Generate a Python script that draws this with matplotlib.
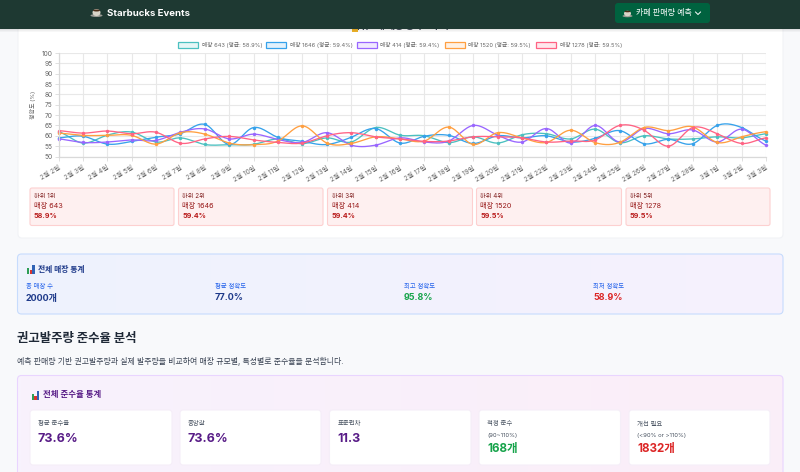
import numpy as np
import matplotlib
matplotlib.use("Agg")
import matplotlib.pyplot as plt
from matplotlib.patches import FancyBboxPatch, Rectangle, Ellipse

plt.rcParams['font.family'] = ['Inter', 'Noto Sans CJK KR', 'DejaVu Sans']

W, H = 800, 472
dates = ['2월 2일','2월 3일','2월 4일','2월 5일','2월 6일','2월 7일','2월 8일','2월 9일','2월 10일','2월 11일',
         '2월 12일','2월 13일','2월 14일','2월 15일','2월 16일','2월 17일','2월 18일','2월 19일','2월 20일','2월 21일',
         '2월 22일','2월 23일','2월 24일','2월 25일','2월 26일','2월 27일','2월 28일','3월 1일','3월 2일','3월 3일']
stores = ['643', '1646', '414', '1520', '1278']
means = ['58.9', '59.4', '59.4', '59.5', '59.5']
teal = [62, 56.5, 60.3, 61.8, 57, 59, 55.8, 55.7, 55.9, 58.5, 56.2, 59, 57, 64, 60.3,
        60, 56.7, 59.5, 56.5, 60.5, 61, 58.5, 63.2, 56.7, 60, 58.5, 58.5, 59.5, 59, 61]
blue = [59, 59.8, 56, 57.3, 59.3, 61, 65.5, 55.8, 64, 59.2, 57.3, 55.8, 59.3, 63.5, 56.5,
        59.8, 60.2, 56.3, 60, 59, 60, 57, 58.8, 62.5, 56.2, 58.3, 56.2, 65, 64, 57.5]
purple = [58.5, 56.8, 57, 58, 57.8, 61.7, 63.3, 58.5, 60.8, 58.2, 56.8, 61.5, 55.5, 55.5, 59,
          57, 57.5, 65, 60.3, 57, 63.5, 56.5, 65, 57, 63.5, 61, 62.8, 57, 63.2, 55.5]
orange = [61.3, 60.2, 60.2, 60.2, 56, 61.5, 60.8, 56.5, 55.7, 57.5, 64.8, 56.5, 56.3, 59.5, 58.5,
          57.5, 64.2, 55.8, 61.5, 59, 56.8, 62.7, 56.7, 56.8, 64, 62.5, 64.3, 56.8, 59.5, 62]
pink = [62.5, 61.3, 62.3, 61, 61.7, 56.4, 58.5, 59.7, 58, 56.8, 56.5, 60, 61.5, 59.5, 58.5,
        57.3, 57.5, 59.5, 59.5, 59, 57, 57.5, 58, 65, 62.7, 55, 64, 61, 56.3, 59]
series = [teal, blue, purple, orange, pink]
colors = ['#4bc0c0', '#36a2eb', '#9966ff', '#ff9f40', '#ff6384']
yticks = list(range(50, 105, 5))
rank_labels = ['하위 1위', '하위 2위', '하위 3위', '하위 4위', '하위 5위']
stat_labels = ['총 매장 수', '평균 정확도', '최고 정확도', '최저 정확도']
stat_values = ['2000개', '77.0%', '95.8%', '58.9%']
comp_labels = ['평균 준수율', '중앙값', '표준편차', '적정 준수', '개선 필요']
comp_subs = ['', '', '', '(90~110%)', '(<90% or >110%)']
comp_values = ['73.6%', '73.6%', '11.3', '168개', '1832개']

fig = plt.figure(figsize=(W / 100, H / 100), dpi=100, facecolor='#f8f9fb')
pg = fig.add_axes([0, 0, 1, 1])
pg.set_xlim(0, W)
pg.set_ylim(H, 0)
pg.axis('off')

def fs(px):
    return px * 0.72

def box(x0, y0, x1, y1, fc, ec='none', r=3, lw=0.8, z=2):
    p = FancyBboxPatch((x0, y0), x1 - x0, y1 - y0, boxstyle=f'round,pad=0,rounding_size={r}',
                       fc=fc, ec=ec, lw=lw, zorder=z)
    pg.add_patch(p)
    return p

def gradient(x0, y0, x1, y1, c0, c1, ec, z=1):
    p = box(x0, y0, x1, y1, 'none', ec, r=4, z=z + 0.1)
    a, b = np.array(matplotlib.colors.to_rgb(c0)), np.array(matplotlib.colors.to_rgb(c1))
    t = np.linspace(0, 1, 128)[None, :, None]
    im = pg.imshow(a + (b - a) * t, extent=(x0, x1, y1, y0), aspect='auto', zorder=z, interpolation='bilinear')
    im.set_clip_path(p)

def txt(x, y, s, px, c, w='normal', ha='left', z=5):
    return pg.text(x, y, s, fontsize=fs(px), color=c, fontweight=w, ha=ha, va='center', zorder=z)

def bars_icon(x, y, h):
    u = h / 10
    pg.add_patch(Rectangle((x, y + 3 * u), 2.6 * u, 7 * u, fc='#2e9e55', zorder=6))
    pg.add_patch(Rectangle((x + 3 * u, y + 5.5 * u), 2.6 * u, 4.5 * u, fc='#d9352f', zorder=6))
    pg.add_patch(Rectangle((x + 6 * u, y), 2.8 * u, 10 * u, fc='#2f62b5', zorder=6))

# main card
box(18, 20, 783, 238, 'white', '#f1f3f6', r=4, z=1)
txt(400, 26, '하위 5개 매장 정확도 추이', 9, '#374151', 'bold', ha='center', z=1.5)
pg.add_patch(Rectangle((352, 29), 6, 2.5, fc='#f0b429', zorder=1.5))

# header
for i, a in enumerate([0.10, 0.06, 0.03]):
    pg.add_patch(Rectangle((0, 29 + i), W, 1, fc='black', alpha=a, ec='none', zorder=6))
pg.add_patch(Rectangle((0, 0), W, 29, fc='#1e3932', ec='none', zorder=7))
pg.add_patch(Ellipse((96.5, 15.5), 12, 3, fc='#9a9a94', zorder=8))
pg.add_patch(Ellipse((96.5, 12.5), 8, 7, fc='#d8d4c8', zorder=8))
pg.add_patch(Ellipse((96.5, 10.5), 7, 2, fc='#4a2c17', zorder=8))
txt(107, 13, 'Starbucks Events', 9.6, 'white', 'bold', z=8)
box(615, 3, 710, 23, '#00623f', r=3, z=8)
pg.add_patch(Ellipse((627.5, 16), 10, 2.5, fc='#9a9a94', zorder=9))
pg.add_patch(Ellipse((627.5, 13.5), 7, 5.5, fc='#d8d4c8', zorder=9))
pg.add_patch(Ellipse((627.5, 11.5), 6, 1.6, fc='#4a2c17', zorder=9))
txt(636, 13, '카페 판매량 예측', 8, 'white', 'medium', z=9)
pg.plot([695.5, 698, 700.5], [12, 14.5, 12], color='white', lw=0.7, zorder=9)

# chart
L, R, T, B = 58.5, 766, 53, 156.5
ax = fig.add_axes([L / W, 1 - B / H, (R - L) / W, (B - T) / H], facecolor='none', zorder=3)
ax.set_xlim(0, len(dates) - 1)
ax.set_ylim(50, 100)
ax.set_yticks(yticks)
ax.set_xticks(range(len(dates)))
ax.set_xticklabels(dates, rotation=30, ha='right', rotation_mode='anchor', fontsize=fs(6.6), color='#666666')
ax.tick_params(axis='y', labelsize=fs(6.6), labelcolor='#666666', length=3, width=0.7, color='#e0e0e0', pad=1)
ax.tick_params(axis='x', length=3, width=0.7, color='#e0e0e0', pad=3)
ax.grid(True, color='#e8e8e8', lw=0.8)
ax.set_axisbelow(True)
for s in ['top', 'right']:
    ax.spines[s].set_visible(False)
for s in ['left', 'bottom']:
    ax.spines[s].set_color('#d9d9d9')
    ax.spines[s].set_linewidth(0.9)
ax.set_ylabel('정확도 (%)', fontsize=fs(6), color='#666666', labelpad=3)
ax.yaxis.set_label_coords((36 - L) / (R - L), (B - 105) / (B - T))

def smooth(y, tension=0.4, n=16):
    y = np.asarray(y, float)
    x = np.arange(len(y), dtype=float)
    xs, ys = [], []
    for i in range(len(y) - 1):
        p0, p1, p2, p3 = max(i - 1, 0), i, i + 1, min(i + 2, len(y) - 1)
        t = np.linspace(0, 1, n, endpoint=False)
        c1 = y[p1] + tension * (y[p2] - y[p0]) / 2
        c2 = y[p2] - tension * (y[p3] - y[p1]) / 2
        ys.append((1 - t)**3 * y[p1] + 3 * (1 - t)**2 * t * c1 + 3 * (1 - t) * t**2 * c2 + t**3 * y[p2])
        xs.append(x[i] + t)
    return np.r_[np.concatenate(xs), x[-1]], np.r_[np.concatenate(ys), y[-1]]

for vals, c in zip(series, colors):
    sx, sy = smooth(vals)
    ax.plot(sx, sy, color=c, lw=0.95, clip_on=True, solid_capstyle='round')
    ax.plot(range(len(vals)), vals, ls='none', marker='o', ms=2.2, mfc=c, mec=c, mew=0.3, clip_on=False)

# legend
leg_box = [178, 266, 357, 445, 536]
for x, st, m, c in zip(leg_box, stores, means, colors):
    rgba = matplotlib.colors.to_rgba(c, 0.14)
    pg.add_patch(Rectangle((x, 41.5), 20, 6.5, fc=rgba, ec=c, lw=0.9, zorder=4))
    txt(x + 23.5, 44.8, f'매장 {st} (평균: {m}%)', 5.7, '#666666')

# bottom-5 cards
card_x = [(30, 174), (178.5, 323), (327.5, 472.5), (476.5, 621.5), (626, 770)]
for (x0, x1), r_l, st, m in zip(card_x, rank_labels, stores, means):
    box(x0, 188, x1, 225.5, '#fef0f0', '#fdd0d0', r=2, z=2)
    txt(x0 + 4, 196.3, r_l, 6.2, '#7f1d1d')
    txt(x0 + 4, 205.5, f'매장 {st}', 7.2, '#991b1b')
    txt(x0 + 4, 216, f'{m}%', 7.2, '#b91c1c', 'bold')

# all-store panel
gradient(17.5, 254, 783, 314, '#eef3fe', '#f6f1fd', '#c7dcfd')
bars_icon(27, 265, 9)
txt(38.5, 269, '전체 매장 통계', 7.8, '#1e3a8a', 'bold')
stat_colors = ['#1e3a8a', '#1e3a8a', '#16a34a', '#dc2626']
for x, l, v, c in zip([26, 215, 404, 593], stat_labels, stat_values, stat_colors):
    txt(x, 286, l, 6.4, '#2563eb')
    txt(x, 298, v, 9.0, c, 'bold')

# compliance section
txt(17, 339, '권고발주량 준수율 분석', 12.4, '#1f2937', 'bold')
txt(17, 361, '예측 판매량 기반 권고발주량과 실제 발주량을 비교하여 매장 규모별, 특성별로 준수율을 분석합니다.', 7.9, '#374151')
gradient(17.5, 375.5, 783, 490, '#f8f2fd', '#fbeef8', '#e9d5ff')
bars_icon(31.5, 391, 9)
txt(43, 395, '전체 준수율 통계', 8.4, '#581c87', 'bold')
comp_x = [(30, 172), (180, 321), (329.5, 471), (479, 620.5), (629, 770)]
comp_colors = ['#581c87', '#581c87', '#581c87', '#16a34a', '#dc2626']
for (x0, x1), l, sub, v, c in zip(comp_x, comp_labels, comp_subs, comp_values, comp_colors):
    box(x0, 410, x1, 465, 'white', '#f5eef8', r=3, z=2)
    txt(x0 + 8, 423.5, l, 6.4, '#4b5563')
    if sub:
        txt(x0 + 8, 435.5, sub, 6, '#4b5563')
        txt(x0 + 8, 449, v, 11.6, c, 'bold')
    else:
        txt(x0 + 8, 439, v, 12.6, c, 'bold')

pg.set_xlim(0, W)
pg.set_ylim(H, 0)
fig.savefig('out.png', dpi=100, facecolor=fig.get_facecolor())
